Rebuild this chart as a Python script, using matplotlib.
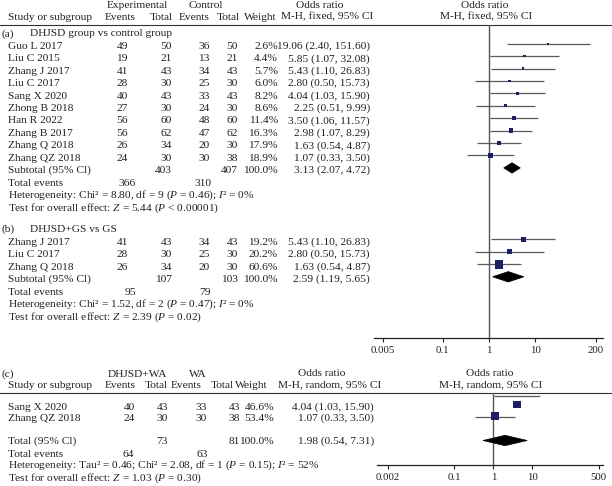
import matplotlib
matplotlib.use("Agg")
import matplotlib.pyplot as plt
from matplotlib.patches import Polygon

plt.rcParams["font.family"] = ["Liberation Serif", "DejaVu Serif"]
plt.rcParams["mathtext.fontset"] = "custom"
plt.rcParams["mathtext.rm"] = "Liberation Serif"
plt.rcParams["mathtext.it"] = "Liberation Serif:italic"

# ---- data (a) DHJSD group vs control group
studies_a = ["Guo L 2017", "Liu C 2015", "Zhang J 2017", "Liu C 2017", "Sang X 2020",
             "Zhong B 2018", "Han R 2022", "Zhang B 2017", "Zhang Q 2018", "Zhang QZ 2018"]
exp_ev_a = [49, 19, 41, 28, 40, 27, 56, 56, 26, 24]
exp_tot_a = [50, 21, 43, 30, 43, 30, 60, 62, 34, 30]
ctl_ev_a = [36, 13, 34, 25, 33, 24, 48, 47, 20, 30]
ctl_tot_a = [50, 21, 43, 30, 43, 30, 60, 62, 30, 38]
weight_a = [2.6, 4.4, 5.7, 6.0, 8.2, 8.6, 11.4, 16.3, 17.9, 18.9]
or_a = [19.06, 5.85, 5.43, 2.80, 4.04, 2.25, 3.50, 2.98, 1.63, 1.07]
lo_a = [2.40, 1.07, 1.10, 0.50, 1.03, 0.51, 1.06, 1.07, 0.54, 0.33]
hi_a = [151.60, 32.08, 26.83, 15.73, 15.90, 9.99, 11.57, 8.29, 4.87, 3.50]
sub_a = [3.13, 2.07, 4.72]
tot_a = [403, 407]
events_a = [366, 310]
het_a = "Heterogeneity: Chi² = 8.80, df = 9 ($P$ = 0.46); $I$² = 0%"
test_a = "Test for overall effect: $Z$ = 5.44 ($P$ < 0.00001)"

# ---- data (b) DHJSD+GS vs GS
studies_b = ["Zhang J 2017", "Liu C 2017", "Zhang Q 2018"]
exp_ev_b = [41, 28, 26]
exp_tot_b = [43, 30, 34]
ctl_ev_b = [34, 25, 20]
ctl_tot_b = [43, 30, 30]
weight_b = [19.2, 20.2, 60.6]
or_b = [5.43, 2.80, 1.63]
lo_b = [1.10, 0.50, 0.54]
hi_b = [26.83, 15.73, 4.87]
sub_b = [2.59, 1.19, 5.65]
tot_b = [107, 103]
events_b = [95, 79]
het_b = "Heterogeneity: Chi² = 1.52, df = 2 ($P$ = 0.47); $I$² = 0%"
test_b = "Test for overall effect: $Z$ = 2.39 ($P$ = 0.02)"

# ---- data (c) DHJSD+WA vs WA
studies_c = ["Sang X 2020", "Zhang QZ 2018"]
exp_ev_c = [40, 24]
exp_tot_c = [43, 30]
ctl_ev_c = [33, 30]
ctl_tot_c = [43, 38]
weight_c = [46.6, 53.4]
or_c = [4.04, 1.07]
lo_c = [1.03, 0.33]
hi_c = [15.90, 3.50]
sub_c = [1.98, 0.54, 7.31]
tot_c = [73, 81]
events_c = [64, 63]
het_c = "Heterogeneity: Tau² = 0.46; Chi² = 2.08, df = 1 ($P$ = 0.15); $I$² = 52%"
test_c = "Test for overall effect: $Z$ = 1.03 ($P$ = 0.30)"

ticks_top = [0.005, 0.1, 1, 10, 200]
ticks_bot = [0.002, 0.1, 1, 10, 500]

TXT = "#231f20"
SQ = "#1c1f66"
LN = "#5a5a5a"
FS = 8.2

W, H = 612, 486
fig = plt.figure(figsize=(W / 100, H / 100), dpi=100)
bg = fig.add_axes([0, 0, 1, 1])
bg.set_xlim(0, W)
bg.set_ylim(H, 0)
bg.axis("off")


def t(x, y, s, ha="left", **kw):
    bg.text(x, y, s, ha=ha, va="center", fontsize=FS, color=TXT, **kw)


def fmt_or(o, l, h):
    return "{:.2f} ({:.2f}, {:.2f})".format(o, l, h)


def px_axes(x0, x1, y0, y1):
    return fig.add_axes([x0 / W, 1 - y1 / H, (x1 - x0) / W, (y1 - y0) / H])


# column positions (right edges)
cols = [128, 172, 210, 238, 278, 370]

# ---------------- header top
t(137, 5, "Experimental", ha="center")
t(206, 5, "Control", ha="center")
t(320, 5, "Odds ratio", ha="center")
t(485, 5, "Odds ratio", ha="center")
t(8, 17, "Study or subgroup")
for x, s in zip([136, 173, 210, 240, 277], ["Events", "Total", "Events", "Total", "Weight"]):
    t(x, 17, s, ha="right")
t(327, 17, "M-H, fixed, 95% CI", ha="center")
t(486, 17, "M-H, fixed, 95% CI", ha="center")
bg.plot([0, W], [25, 25], color="#333333", lw=0.8)


def block(y0, step, label, title, studies, ee, et, ce, ct, w, o, lo, hi, sub, tot, ev, het, test):
    t(1, y0, label)
    t(30, y0, title)
    ys = [y0 + step * (i + 1) for i in range(len(studies))]
    for y, s, a, b, c, d, ww, oo, l, h in zip(ys, studies, ee, et, ce, ct, w, o, lo, hi):
        t(8, y, s)
        t(cols[0], y, str(a), ha="right")
        t(cols[1], y, str(b), ha="right")
        t(cols[2], y, str(c), ha="right")
        t(cols[3], y, str(d), ha="right")
        t(cols[4], y, "{:.1f}%".format(ww), ha="right")
        t(cols[5], y, fmt_or(oo, l, h), ha="right")
    n = len(studies)
    ysub = y0 + step * (n + 1)
    t(8, ysub, "Subtotal (95% Cl)")
    t(cols[1], ysub, str(tot[0]), ha="right")
    t(cols[3], ysub, str(tot[1]), ha="right")
    t(cols[4], ysub, "100.0%", ha="right")
    t(cols[5], ysub, fmt_or(*sub), ha="right")
    t(8, ysub + step, "Total events")
    t(136, ysub + step, str(ev[0]), ha="right")
    t(211, ysub + step, str(ev[1]), ha="right")
    t(8, ysub + 2 * step, het)
    t(8, ysub + 3 * step, test)
    return ys, ysub


ys_a, ysub_a = block(34, 12.42, "(a)", "DHJSD group vs control group", studies_a, exp_ev_a, exp_tot_a,
                     ctl_ev_a, ctl_tot_a, weight_a, or_a, lo_a, hi_a, sub_a, tot_a, events_a, het_a, test_a)
ys_b, ysub_b = block(229.5, 12.5, "(b)", "DHJSD+GS vs GS", studies_b, exp_ev_b, exp_tot_b,
                     ctl_ev_b, ctl_tot_b, weight_b, or_b, lo_b, hi_b, sub_b, tot_b, events_b, het_b, test_b)


def diamond(ax, o, l, h, y, hh=5.2):
    ax.add_patch(Polygon([[l, y], [o, y - hh], [h, y], [o, y + hh]], closed=True,
                         facecolor="black", edgecolor="black", lw=0.5))


def setup_forest(ax, ticks, ctr, ppd, x0, x1):
    ax.set_xscale("log")
    ax.set_xlim(10 ** ((x0 - ctr) / ppd), 10 ** ((x1 - ctr) / ppd))
    for s in ["top", "left", "right"]:
        ax.spines[s].set_visible(False)
    ax.spines["bottom"].set_color("#222222")
    ax.spines["bottom"].set_linewidth(0.9)
    ax.set_yticks([])
    ax.set_xticks(ticks)
    ax.set_xticklabels([str(v) for v in ticks])
    ax.minorticks_off()
    ax.tick_params(axis="x", direction="out", length=3, width=0.8, labelsize=7.8,
                   colors=TXT, pad=3)
    ax.patch.set_alpha(0)
    ax.axvline(1, color="#555555", lw=1.0, zorder=1)


# ---------------- top forest
fa = px_axes(374, 603, 25, 338)
fa.set_ylim(338, 25)
setup_forest(fa, ticks_top, 489.1, 46.29, 374, 603)
off = 2.7
for ys, o, lo, hi, w in [(ys_a, or_a, lo_a, hi_a, weight_a), (ys_b, or_b, lo_b, hi_b, weight_b)]:
    ym = [y - off for y in ys]
    fa.hlines(ym, lo, hi, color=LN, lw=0.9, zorder=2)
    fa.scatter(o, ym, marker="s", s=[0.63 * v for v in w], color=SQ, zorder=3, linewidths=0)
diamond(fa, sub_a[0], sub_a[1], sub_a[2], ysub_a - off)
diamond(fa, sub_b[0], sub_b[1], sub_b[2], ysub_b - off)

# ---------------- panel (c) header
t(1, 374.5, "(c)")
t(137, 374.5, "DHJSD+WA", ha="center")
t(198, 374.5, "WA", ha="center")
t(322, 373.5, "Odds ratio", ha="center")
t(490, 373.5, "Odds ratio", ha="center")
t(8, 385, "Study or subgroup")
for x, s in zip([136, 168, 202, 234, 268], ["Events", "Total", "Events", "Total", "Weight"]):
    t(x, 385, s, ha="right")
t(330, 385, "M-H, random, 95% CI", ha="center")
t(491, 385, "M-H, random, 95% CI", ha="center")
bg.plot([0, W], [393, 393], color="#333333", lw=0.8)

cols_c = [135, 168, 207, 240, 274, 374]
ys_c = [407, 418.3]
for y, s, a, b, c, d, ww, oo, l, h in zip(ys_c, studies_c, exp_ev_c, exp_tot_c, ctl_ev_c, ctl_tot_c,
                                          weight_c, or_c, lo_c, hi_c):
    t(8, y, s)
    t(cols_c[0], y, str(a), ha="right")
    t(cols_c[1], y, str(b), ha="right")
    t(cols_c[2], y, str(c), ha="right")
    t(cols_c[3], y, str(d), ha="right")
    t(cols_c[4], y, "{:.1f}%".format(ww), ha="right")
    t(cols_c[5], y, fmt_or(oo, l, h), ha="right")
ysub_c = 441
t(8, ysub_c, "Total (95% Cl)")
t(cols_c[1], ysub_c, str(tot_c[0]), ha="right")
t(cols_c[3], ysub_c, str(tot_c[1]), ha="right")
t(cols_c[4], ysub_c, "100.0%", ha="right")
t(cols_c[5], ysub_c, fmt_or(*sub_c), ha="right")
t(8, 454.5, "Total events")
t(134, 454.5, str(events_c[0]), ha="right")
t(208, 454.5, str(events_c[1]), ha="right")
t(8, 465.5, het_c)
t(8, 478, test_c)

# ---------------- bottom forest
fc = px_axes(377, 603, 393, 465)
fc.set_ylim(465, 393)
setup_forest(fc, ticks_bot, 493.4, 39.07, 377, 603)
# in the source figure the CI line of the first study sits just under the header rule
ci_shift_c = [-11.5, -1.5]
ym_c = [y - 2.5 for y in ys_c]
fc.hlines([y + s for y, s in zip(ys_c, ci_shift_c)], lo_c, hi_c, color=LN, lw=0.9, zorder=2)
fc.scatter(or_c, ym_c, marker="s", s=[0.63 * v for v in weight_c], color=SQ, zorder=3, linewidths=0)
diamond(fc, sub_c[0], sub_c[1], sub_c[2], ysub_c - 0.5)

fig.savefig("out.png", dpi=100)
